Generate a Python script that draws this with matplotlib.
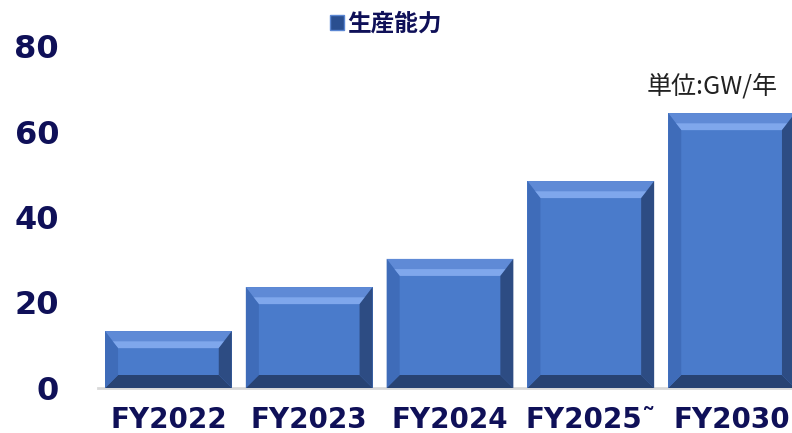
import numpy as np
import matplotlib
matplotlib.use('Agg')
import matplotlib.pyplot as plt
from matplotlib.patches import Polygon, Rectangle

plt.rcParams['font.family'] = ['DejaVu Sans', 'Noto Sans CJK JP']

# data
categories = ['FY2022', 'FY2023', 'FY2024', 'FY2025\u02dc', 'FY2030']
capacity = [13.3, 23.6, 30.2, 48.4, 64.3]
series_name = '生産能力'
unit_text = '単位:GW/年'

navy = '#0f1058'
c_main = '#4a7bcb'
c_top = '#5f8ad6'
c_hi = '#7fa7ec'
c_left = '#3f6cb9'
c_right = '#2d4c83'
c_bottom = '#284373'

W, H = 792, 433
fig = plt.figure(figsize=(W / 100, H / 100), dpi=100)
ax = fig.add_axes([98 / W, (433 - 388) / H, 704 / W, 342 / H])

x = np.arange(len(categories))
bars = ax.bar(x, capacity, width=0.9, color=c_main, zorder=2)
ax.set_xlim(-0.5, len(categories) - 0.5)
ax.set_ylim(0, 80)

# bevel sizes in pixels -> data units
px_x = 704 / len(categories)
px_y = 342 / 80
bs, bt, bb = 13 / px_x, 17 / px_y, 13 / px_y
for b in bars:
    x0, w, h = b.get_x(), b.get_width(), b.get_height()
    x1 = x0 + w
    ax.add_patch(Polygon([(x0, h), (x1, h), (x1 - bs, h - bt), (x0 + bs, h - bt)],
                         closed=True, color=c_top, lw=0, zorder=3))
    ax.add_patch(Polygon([(x0 + bs * 0.55, h - bt * 0.6), (x1 - bs * 0.55, h - bt * 0.6),
                          (x1 - bs, h - bt), (x0 + bs, h - bt)],
                         closed=True, color=c_hi, lw=0, zorder=3))
    ax.add_patch(Polygon([(x0, 0), (x1, 0), (x1 - bs, bb), (x0 + bs, bb)],
                         closed=True, color=c_bottom, lw=0, zorder=3))
    ax.add_patch(Polygon([(x0, 0), (x0 + bs, bb), (x0 + bs, h - bt), (x0, h)],
                         closed=True, color=c_left, lw=0, zorder=3))
    ax.add_patch(Polygon([(x1, 0), (x1 - bs, bb), (x1 - bs, h - bt), (x1, h)],
                         closed=True, color=c_right, lw=0, zorder=3))

for s in ['top', 'right', 'left']:
    ax.spines[s].set_visible(False)
ax.spines['bottom'].set_color('#d9d9d9')
ax.spines['bottom'].set_linewidth(2)
ax.spines['bottom'].set_zorder(1)

ax.set_xticks(x)
ax.set_xticklabels(categories, fontsize=20, fontweight='bold', color=navy)
ax.set_yticks([0, 20, 40, 60, 80])
ax.set_yticklabels(['0', '20', '40', '60', '80'], fontsize=23, fontweight='bold', color=navy)
ax.tick_params(axis='y', length=0, pad=28)
ax.tick_params(axis='x', length=0, pad=13)

leg_patch = Rectangle((0, 0), 1, 1, facecolor='#2a4f90', edgecolor='#5a86d2', lw=1)
ax.legend([leg_patch], [series_name], loc='upper left', bbox_to_anchor=(318 / W, 1.0),
          bbox_transform=fig.transFigure, frameon=False, handlelength=0.6, handleheight=0.6,
          handletextpad=0.15, borderaxespad=0.1,
          prop={'family': ['Noto Sans CJK JP'], 'weight': 'bold', 'size': 17})
for t in ax.get_legend().get_texts():
    t.set_color(navy)

fig.text(778 / W, 1 - 87 / H, unit_text, ha='right', va='center', fontsize=18,
         color='#222222', family=['Noto Sans CJK JP', 'DejaVu Sans'])

fig.savefig('out.png', dpi=100, facecolor='white')
